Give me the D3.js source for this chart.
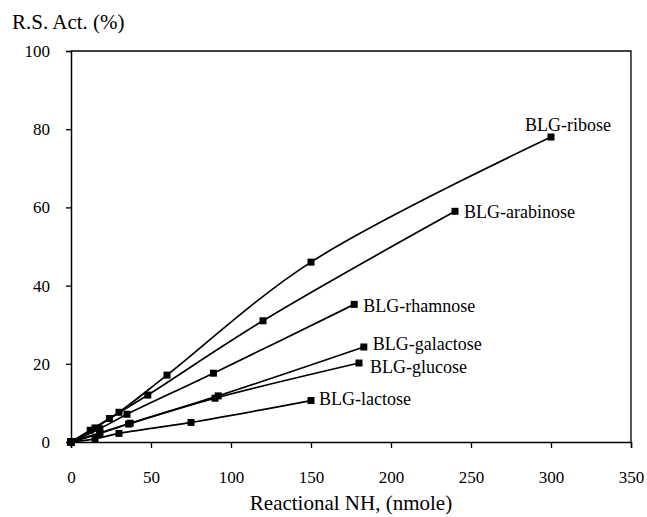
<!DOCTYPE html>
<html>
<head>
<meta charset="utf-8">
<script src="https://cdn.jsdelivr.net/npm/d3@7"></script>
<style>
  html, body { margin: 0; padding: 0; background: #fff; }
  svg { display: block; }
  text { font-family: "Liberation Serif", "Times New Roman", serif; fill: #000; }
</style>
</head>
<body>
<svg id="chart" width="647" height="517"></svg>
<script>
// ---- Data ----
const seriesNames = ["BLG-ribose", "BLG-arabinose", "BLG-rhamnose", "BLG-galactose", "BLG-glucose", "BLG-lactose"];
const riboseX     = [0, 15, 30, 60, 150, 300];
const riboseY     = [0, 3.6, 7.6, 17.1, 46, 78];
const arabinoseX  = [0, 12, 24, 48, 120, 240];
const arabinoseY  = [0, 3, 6, 12, 31, 59];
const rhamnoseX   = [0, 18, 35, 89, 177];
const rhamnoseY   = [0, 3.4, 7.1, 17.6, 35.2];
const galactoseX  = [0, 18, 37, 92, 183];
const galactoseY  = [0, 2.3, 4.8, 11.8, 24.3];
const glucoseX    = [0, 18, 36, 90, 180];
const glucoseY    = [0, 2.2, 4.6, 11.2, 20.2];
const lactoseX    = [0, 15, 30, 75, 150];
const lactoseY    = [0, 0.8, 2.2, 5.0, 10.6];
const xTicks = [0, 50, 100, 150, 200, 250, 300, 350];
const yTicks = [0, 20, 40, 60, 80, 100];
const xTitle = "Reactional NH, (nmole)";
const yTitle = "R.S. Act. (%)";

// label offsets (style) relative to last point
const labelOffsets = [[-26, -6], [9, 7], [9, 8], [9, 3], [11, 10], [8, 4]];

const allX = [riboseX, arabinoseX, rhamnoseX, galactoseX, glucoseX, lactoseX];
const allY = [riboseY, arabinoseY, rhamnoseY, galactoseY, glucoseY, lactoseY];
const series = seriesNames.map((name, i) => ({
  name,
  points: allX[i].map((x, j) => ({ x, y: allY[i][j] })),
  off: labelOffsets[i]
}));

const svg = d3.select("#chart");
const x = d3.scaleLinear().domain([0, 350]).range([71, 631]);
const y = d3.scaleLinear().domain([0, 100]).range([442, 51]);

// frame (top & right)
svg.append("path")
  .attr("d", `M${x(0)},${y(100)}H${x(350)}V${y(0)}`)
  .attr("fill", "none").attr("stroke", "#000").attr("stroke-width", 1.3);

// axes
const xAxis = svg.append("g").attr("transform", `translate(0,${y(0)})`)
  .call(d3.axisBottom(x).tickValues(xTicks).tickSize(6).tickPadding(23).tickFormat(d3.format("d")));
const yAxis = svg.append("g").attr("transform", `translate(${x(0)},0)`)
  .call(d3.axisLeft(y).tickValues(yTicks).tickSize(5).tickPadding(16).tickFormat(d3.format("d")));
[xAxis, yAxis].forEach(g => {
  g.select(".domain").attr("stroke", "#000").attr("stroke-width", 1.5);
  g.selectAll(".tick line").attr("stroke", "#000").attr("stroke-width", 1.3);
  g.selectAll(".tick text").style("font-family", '"Liberation Serif", "Times New Roman", serif')
    .style("font-size", "17px").attr("fill", "#000");
});

// lines
const line = d3.line().x(d => x(d.x)).y(d => y(d.y)).curve(d3.curveCatmullRom.alpha(0.5));
const g = svg.append("g");
series.forEach(s => {
  g.append("path").datum(s.points).attr("d", line)
    .attr("fill", "none").attr("stroke", "#000").attr("stroke-width", 1.7);
});
series.forEach(s => {
  g.selectAll(null).data(s.points).enter().append("rect")
    .attr("x", d => x(d.x) - 3.5).attr("y", d => y(d.y) - 3.5)
    .attr("width", 7).attr("height", 7).attr("fill", "#000");
  const last = s.points[s.points.length - 1];
  g.append("text")
    .attr("x", x(last.x) + s.off[0]).attr("y", y(last.y) + s.off[1])
    .style("font-size", "18px").text(s.name);
});

// titles
svg.append("text").attr("x", 12).attr("y", 29).style("font-size", "21px").text(yTitle);
svg.append("text").attr("x", 351).attr("y", 510).attr("text-anchor", "middle")
  .style("font-size", "21px").text(xTitle);
</script>
</body>
</html>
